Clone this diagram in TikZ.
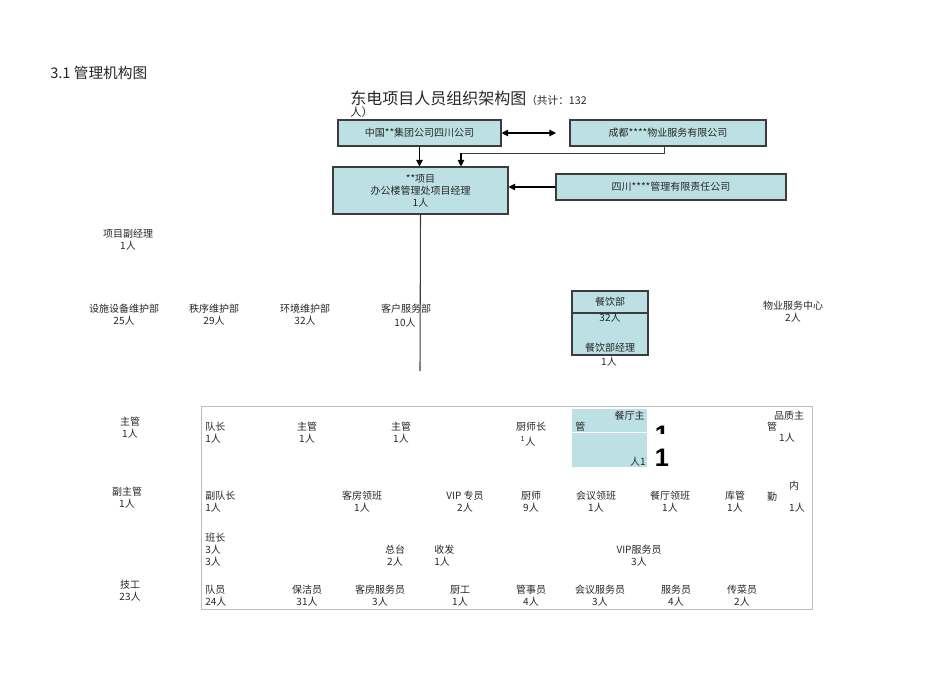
\documentclass[tikz,border=0pt]{standalone}
\usepackage{fontspec}
\setmainfont{Noto Sans CJK SC}
\newfontfamily\digitfont{Liberation Sans}
\usetikzlibrary{positioning}
\usetikzlibrary{arrows.meta}
\definecolor{boxblue}{HTML}{BCE0E4}
\definecolor{boxline}{HTML}{3C3C3C}
\definecolor{frameline}{HTML}{BEBEBE}
\definecolor{textgray}{HTML}{262626}
\def\u{0.75pt}
\tikzstyle{orgbox} = [rectangle, draw=boxline, fill=boxblue, thick,
inner sep=0pt, align=center, text=textgray]
\tikzstyle{lbl} = [inner sep=0pt, align=center, text=textgray]
\tikzstyle{lblleft} = [inner sep=0pt, align=left, anchor=west, text=textgray]
\tikzstyle{linkarrow} = [thick, -{Triangle[length=5pt,width=5pt]}]
\tikzstyle{dblarrow} = [thick, {Triangle[length=5pt,width=5pt]}-{Triangle[length=5pt,width=5pt]}]

\begin{document}
\begin{tikzpicture}[x=0.75pt, y=-0.75pt, font=\fontsize{7.5}{9}\selectfont] % pixel grid
    \useasboundingbox (0,0) rectangle (950,672);
    % titles
    \node[lblleft, font=\fontsize{11}{13}\selectfont] (heading) at (50,73) {3.1 管理机构图};
    \node[lblleft] (title) at (350,98) {{\fontsize{12}{14}\selectfont 东电项目人员组织架构图}{\fontsize{8}{9}\selectfont （共计：132}};
    \node[lblleft, font=\fontsize{8.5}{9}\selectfont] (title2) at (350,112) {人）};
    % top boxes
    \node[orgbox, minimum width=163*\u, minimum height=26*\u] (group) at (419.5,133) {中国**集团公司四川公司};
    \node[orgbox, minimum width=196*\u, minimum height=26*\u] (property) at (668,133) {成都****物业服务有限公司};
    \node[orgbox, minimum width=175*\u, minimum height=47*\u] (manager) at (420.5,190.5) {**项目\\办公楼管理处项目经理\\1人};
    \node[orgbox, minimum width=230*\u, minimum height=26*\u] (sichuan) at (671,187) {四川****管理有限责任公司};
    % connectors
    \coordinate (dblend) at (556,133);
    \coordinate (bend) at (461,153);
    \coordinate (stem) at (420,371);
    \draw[dblarrow] (group.east) -- (dblend);
    \draw[linkarrow] (group.south) -- (group.south |- manager.north);
    \draw[boxline] ([xshift=-4*\u]property.south) |- (bend);
    \draw[linkarrow] (bend) -- (bend |- manager.north);
    \draw[linkarrow] (sichuan.west) -- (sichuan.west -| manager.east);
    \draw[boxline, thick] (manager.south) -- (stem);
    % departments
    \node[lbl] (deputy) at (128,240) {项目副经理\\1人};
    \node[lbl] (facility) at (124,315) {设施设备维护部\\25人};
    \node[lbl] (security) at (214,315) {秩序维护部\\29人};
    \node[lbl] (environ) at (305,315) {环境维护部\\32人};
    \node[lbl] (service) at (406,309) {客户服务部};
    \node[lbl] (servicenum) at (405,323) {10人};
    \node[orgbox, minimum width=76*\u, minimum height=64*\u] (canteen) at (610,323) {};
    \draw[boxline, thick] (canteen.west |- 0,313) -- (canteen.east |- 0,313);
    \node[lbl] (canteenname) at (610,302) {餐饮部};
    \node[lbl] (canteennum) at (610,318) {32人};
    \node[lbl] (canteenmgr) at (610,348) {餐饮部经理};
    \node[lbl] (canteenmgrnum) at (609,362) {1人};
    \node[lbl] (center) at (793,312) {物业服务中心\\2人};
    % staff frame
    \node[rectangle, draw=frameline, minimum width=611*\u, minimum height=203*\u] (frame) at (506.5,507.5) {};
    \node[lbl] (supervisor) at (130,427.5) {主管\\1人};
    \node[lbl] (vicesup) at (127,497.5) {副主管\\1人};
    \node[lbl] (worker) at (130,591) {技工\\23人};
    % row 1
    \node[lblleft] (captain) at (205,433) {队长\\1人};
    \node[lbl] (supa) at (307,433) {主管\\1人};
    \node[lbl] (supb) at (401,433) {主管\\1人};
    \node[lbl] (chef) at (531,427) {厨师长};
    \node[lbl] (chefnum) at (528,441) {\textsuperscript{1}人};
    \node[rectangle, fill=boxblue, minimum width=75*\u, minimum height=58*\u, inner sep=0pt] (hallsup) at (609.5,438) {};
    \draw[white, thin] (hallsup.west |- 0,432) -- (hallsup.east |- 0,432);
    \node[lbl, anchor=east] (hallsupa) at (645,416) {餐厅主};
    \node[lbl, anchor=west] (hallsupb) at (575,427) {管};
    \node[lbl, anchor=east] (hallsupc) at (646,462) {人1};
    \begin{scope}
        \clip (640,420) rectangle (690,433);
        \node[lbl, text=black, font=\digitfont\bfseries\fontsize{19}{19}\selectfont] (bigone) at (662,434.5) {1};
    \end{scope}
    \node[lbl, text=black, font=\digitfont\bfseries\fontsize{19}{19}\selectfont] (bigtwo) at (662,457.5) {1};
    \node[lbl] (qualitya) at (789,416) {品质主};
    \node[lbl] (qualityb) at (772,427) {管};
    \node[lbl] (qualityc) at (787,438) {1人};
    % row 2
    \node[lblleft] (vicecaptain) at (205,502) {副队长\\1人};
    \node[lbl] (roomlead) at (362,502) {客房领班\\1人};
    \node[lbl] (vip) at (465,502) {VIP 专员\\2人};
    \node[lbl] (cook) at (531,502) {厨师\\9人};
    \node[lbl] (meetlead) at (596,502) {会议领班\\1人};
    \node[lbl] (halllead) at (670,502) {餐厅领班\\1人};
    \node[lbl] (store) at (735,502) {库管\\1人};
    \node[lbl] (innera) at (794,486) {内};
    \node[lbl] (innerb) at (772,497) {勤};
    \node[lbl] (innerc) at (797,508) {1人};
    % row 3
    \node[lblleft] (monitor) at (205,550) {班长\\3人\\3人};
    \node[lbl] (desk) at (395,556) {总台\\2人};
    \node[lblleft] (mail) at (434,556) {收发\\1人};
    \node[lbl] (vipwaiter) at (639,556) {VIP服务员\\3人};
    % row 4
    \node[lblleft] (member) at (205,595.5) {队员\\24人};
    \node[lbl] (cleaner) at (307,595.5) {保洁员\\31人};
    \node[lbl] (roomwaiter) at (380,595.5) {客房服务员\\3人};
    \node[lbl] (kitchen) at (460,595.5) {厨工\\1人};
    \node[lbl] (steward) at (531,595.5) {管事员\\4人};
    \node[lbl] (meetwaiter) at (600,595.5) {会议服务员\\3人};
    \node[lbl] (waiter) at (676,595.5) {服务员\\4人};
    \node[lbl] (runner) at (742,595.5) {传菜员\\2人};
\end{tikzpicture}
\end{document}
